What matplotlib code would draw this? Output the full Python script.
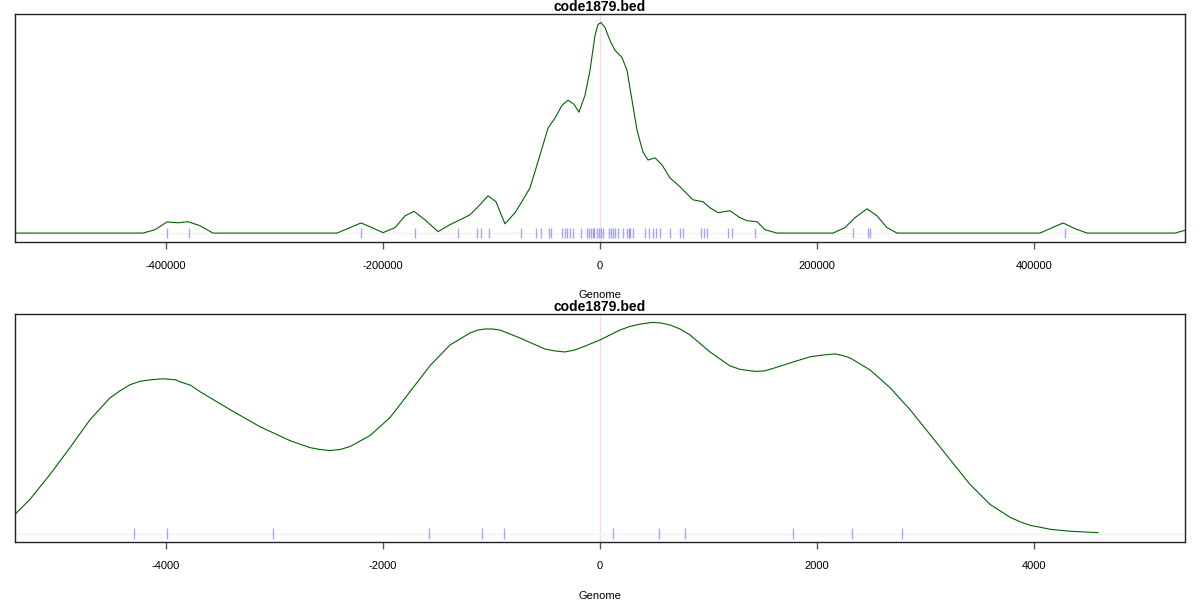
import matplotlib
matplotlib.use("Agg")
import matplotlib.pyplot as plt

# ---- data ----
TITLE = "code1879.bed"

# wide view: density curve (genome position, relative density)
wide_x = [-539200, -421200, -410100, -399100, -389000, -379700, -368700, -356700,
          -242400, -230400, -220300, -210100, -200000, -188900, -179700, -171400,
          -161300, -149300, -138300, -129000, -119800, -112400, -103200, -95900,
          -87600, -78300, -71000, -64500, -55300, -47900, -41500, -35000, -29500,
          -24000, -19400, -13800, -9200, -4600, -1800, 900, 4600, 9200, 13800,
          20300, 24900, 29500, 34100, 39600, 44200, 50700, 57100, 64500, 73700,
          85700, 94900, 101400, 108800, 119800, 129000, 135500, 144700, 152100,
          163100, 214800, 225800, 235000, 246100, 255300, 264500, 273700, 405500,
          414800, 426800, 437800, 448900, 530000, 539200]
wide_y = [0, 0, 0.016, 0.053, 0.049, 0.054, 0.035, 0,
          0, 0.026, 0.048, 0.026, 0.002, 0.026, 0.082, 0.103,
          0.063, 0.007, 0.040, 0.063, 0.087, 0.125, 0.177, 0.149,
          0.044, 0.097, 0.158, 0.215, 0.371, 0.499, 0.546, 0.607, 0.631,
          0.612, 0.574, 0.655, 0.773, 0.939, 0.991, 1.0, 0.976, 0.915, 0.868,
          0.834, 0.773, 0.631, 0.489, 0.385, 0.347, 0.357, 0.324, 0.262, 0.220,
          0.158, 0.149, 0.120, 0.097, 0.106, 0.073, 0.059, 0.054, 0.016,
          0, 0, 0.026, 0.073, 0.115, 0.082, 0.026, 0, 0,
          0.021, 0.048, 0.021, 0, 0, 0.013]
wide_rug = [-398800, -378500, -220000, -170800, -130600, -113650, -109400, -102030,
            -73090, -58530, -54660, -47010, -45160, -34750, -32260, -30140, -27650,
            -25160, -17510, -11710, -9860, -8570, -6730, -5250, -3040, -920, 920,
            2770, 8300, 10140, 12260, 13830, 16870, 20920, 24890, 26730, 28110,
            30690, 41480, 45440, 49130, 51340, 55300, 64520, 74010, 76780, 92950,
            95860, 98900, 118250, 121940, 142850, 233470, 247020, 248860, 428590]
wide_ticks = [-400000, -200000, 0, 200000, 400000]

# zoomed view
zoom_x = [-5392, -5254, -5069, -4885, -4701, -4516, -4424, -4332, -4240, -4148,
          -4028, -3911, -3871, -3772, -3687, -3410, -3134, -2857, -2673, -2581,
          -2489, -2396, -2304, -2120, -1936, -1751, -1567, -1383, -1198, -1124,
          -1060, -995, -922, -737, -507, -415, -323, -230, -138, 0, 184, 277,
          369, 479, 553, 645, 737, 829, 1014, 1198, 1290, 1382, 1447, 1521, 1613,
          1751, 1936, 2028, 2166, 2231, 2304, 2489, 2673, 2857, 3042, 3226, 3410,
          3595, 3779, 3871, 3963, 4055, 4148, 4332, 4590]
zoom_y = [0.091, 0.162, 0.280, 0.407, 0.539, 0.643, 0.676, 0.705, 0.721, 0.728,
          0.733, 0.728, 0.719, 0.702, 0.672, 0.587, 0.506, 0.440, 0.407, 0.398,
          0.393, 0.398, 0.412, 0.464, 0.549, 0.672, 0.795, 0.893, 0.950, 0.964,
          0.969, 0.969, 0.964, 0.926, 0.874, 0.865, 0.860, 0.870, 0.888, 0.917,
          0.964, 0.981, 0.992, 1.0, 0.998, 0.988, 0.969, 0.941, 0.860, 0.794,
          0.778, 0.771, 0.768, 0.771, 0.785, 0.808, 0.837, 0.844, 0.851, 0.844,
          0.832, 0.775, 0.691, 0.587, 0.469, 0.351, 0.233, 0.138, 0.077, 0.056,
          0.039, 0.030, 0.020, 0.011, 0.004]
zoom_rug = [-4298, -3994, -3016, -1576, -1088, -885, 116, 540, 781, 1776, 2320, 2783]
zoom_ticks = [-4000, -2000, 0, 2000, 4000]

plt.rcParams["font.family"] = ["Liberation Sans", "DejaVu Sans"]

fig = plt.figure(figsize=(12, 6), dpi=100)
ax1 = fig.add_axes([0.0125, 0.5975, 0.975, 0.379])
ax2 = fig.add_axes([0.0125, 0.0967, 0.975, 0.380])


def panel(ax, xs, ys, rug, ticks, xlim):
    ax.axvline(0, color="#ffd8dc", lw=1, zorder=0)
    ax.axhline(0, color="#f2f2f2", lw=1, zorder=0)
    ax.vlines(rug, -0.025, 0.025, color="#0000ff", alpha=0.35, lw=1, zorder=1)
    ax.plot(xs, ys, color="#006400", lw=0.8, zorder=2)
    ax.set_xlim(*xlim)
    ax.set_ylim(-0.04, 1.04)
    ax.set_yticks([])
    ax.set_xticks(ticks)
    ax.set_xticklabels([str(t) for t in ticks])
    ax.tick_params(axis="x", direction="out", length=5, width=1, pad=9,
                   labelsize=8, color="#555555")
    for s in ax.spines.values():
        s.set_color("#222222")
        s.set_linewidth(1)
    ax.set_xlabel("Genome", fontsize=8, labelpad=14)
    ax.set_title(TITLE, fontsize=10, weight="bold", pad=1)


panel(ax1, wide_x, wide_y, wide_rug, wide_ticks, (-539200, 539200))
panel(ax2, zoom_x, zoom_y, zoom_rug, zoom_ticks, (-5392, 5392))

fig.savefig("out.png", dpi=100, facecolor="white")
